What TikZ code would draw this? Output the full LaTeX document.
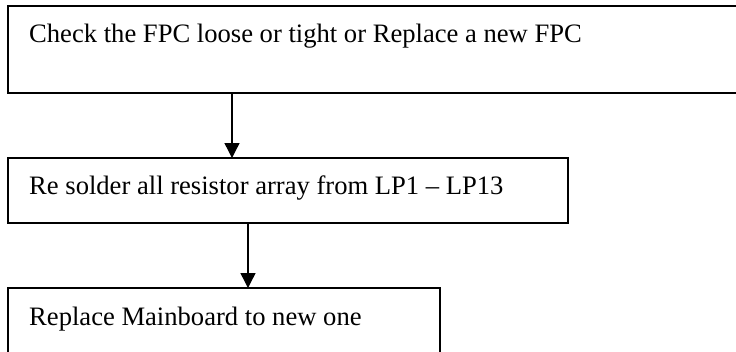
\documentclass[tikz,border=0pt]{standalone}
\usepackage{fontspec}
\setmainfont{Liberation Serif}
\usetikzlibrary{arrows.meta}
\begin{document}
\begin{tikzpicture}[x=1pt,y=-1pt,
  box/.style={draw, line width=1.6pt, rectangle, inner sep=0pt, outer sep=0pt, anchor=north west},
  txt/.style={anchor=base west, inner sep=0pt, font=\fontsize{26.6}{32}\selectfont},
  flow/.style={line width=1.4pt, -{Triangle[length=15pt,width=15pt]}}]
\useasboundingbox (0,0) rectangle (736,351);
\clip (0,0) rectangle (736,351);

% process boxes
\node[box, minimum width=729pt, minimum height=87pt] (b1) at (8,6) {};
\node[box, minimum width=560pt, minimum height=65pt] (b2) at (8,158) {};
\node[box, minimum width=432pt, minimum height=90pt] (b3) at (8,288) {};

% step texts
\node[txt] (t1) at (29,42) {Check the FPC loose or tight or Replace a new FPC};
\node[txt] (t2) at (29,194) {Re solder all resistor array from LP1 – LP13};
\node[txt] (t3) at (29,325) {Replace Mainboard to new one};

% arrow columns
\coordinate (x1) at (232,0);
\coordinate (x2) at (248,0);
\draw[flow] (b1.south -| x1) -- (b2.north -| x1);
\draw[flow] (b2.south -| x2) -- (b3.north -| x2);
\end{tikzpicture}
\end{document}
